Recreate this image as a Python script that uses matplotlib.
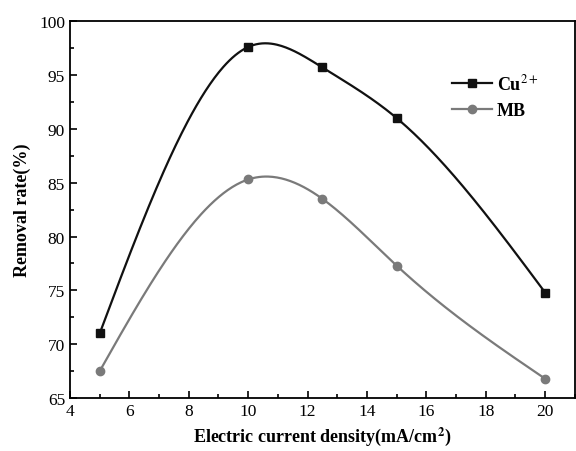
import numpy as np
import matplotlib.pyplot as plt
from matplotlib.ticker import MultipleLocator

# valeurs
densite = [5, 10, 12.5, 15, 20]
cu = [71.0, 97.6, 95.7, 91.0, 74.8]
mb = [67.5, 85.3, 83.5, 77.3, 66.8]


def spline_naturelle(x, y, n=300):
    # spline cubique naturelle (pas de scipy)
    x = np.asarray(x, float)
    y = np.asarray(y, float)
    k = len(x)
    h = np.diff(x)
    A = np.zeros((k, k))
    b = np.zeros(k)
    A[0, 0] = A[-1, -1] = 1
    for i in range(1, k - 1):
        A[i, i - 1] = h[i - 1]
        A[i, i] = 2 * (h[i - 1] + h[i])
        A[i, i + 1] = h[i]
        b[i] = 3 * ((y[i + 1] - y[i]) / h[i] - (y[i] - y[i - 1]) / h[i - 1])
    c = np.linalg.solve(A, b)
    xs = np.linspace(x[0], x[-1], n)
    idx = np.clip(np.searchsorted(x, xs) - 1, 0, k - 2)
    dx = xs - x[idx]
    bb = (y[1:] - y[:-1]) / h - h * (2 * c[:-1] + c[1:]) / 3
    d = (c[1:] - c[:-1]) / (3 * h)
    ys = y[idx] + bb[idx] * dx + c[idx] * dx ** 2 + d[idx] * dx ** 3
    return xs, ys


plt.rcParams['font.family'] = ['Liberation Serif', 'DejaVu Serif']
plt.rcParams['mathtext.fontset'] = 'stix'

fig = plt.figure(figsize=(5.76, 4.52), dpi=100)
ax = fig.add_axes([0.1215, 0.117, 0.8765, 0.834])

gris = '#7a7a7a'
xs, ys = spline_naturelle(densite, cu)
ax.plot(xs, ys, color='#111111', lw=1.6)
ax.plot(densite, cu, 's', color='#111111', ms=6)
xs, ys = spline_naturelle(densite, mb)
ax.plot(xs, ys, color=gris, lw=1.6)
ax.plot(densite, mb, 'o', color=gris, ms=6)

# entrées de légende
ax.plot([], [], '-s', color='#111111', lw=1.6, ms=6, label='Cu$^{2+}$')
ax.plot([], [], '-o', color=gris, lw=1.6, ms=6, label='MB')
leg = ax.legend(loc='upper right', bbox_to_anchor=(0.96, 0.905), frameon=False,
                prop={'weight': 'bold', 'size': 13}, handlelength=2.2,
                handletextpad=0.3, labelspacing=0.5)

ax.set_xlim(4, 21)
ax.set_ylim(65, 100)
ax.xaxis.set_major_locator(MultipleLocator(2))
ax.xaxis.set_minor_locator(MultipleLocator(1))
ax.yaxis.set_major_locator(MultipleLocator(5))
ax.yaxis.set_minor_locator(MultipleLocator(2.5))
ax.tick_params(which='both', direction='in', labelsize=12.5, width=1.2)
ax.tick_params(which='major', length=5)
ax.tick_params(which='minor', length=3)
for s in ax.spines.values():
    s.set_linewidth(1.3)

ax.set_xlabel('Electric current density(mA/cm$^\\mathbf{2}$)', fontsize=13,
              fontweight='bold', labelpad=4)
ax.set_ylabel('Removal rate(%)', fontsize=13, fontweight='bold', labelpad=6)

fig.savefig('out.png', dpi=100)
